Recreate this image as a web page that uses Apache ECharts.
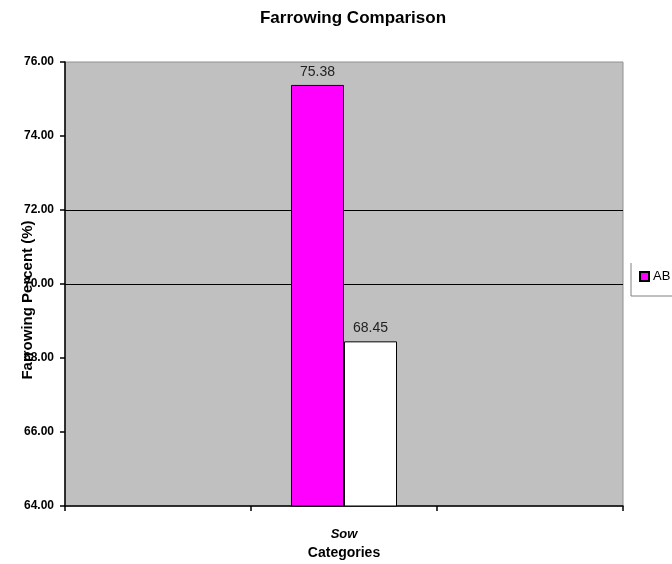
<!DOCTYPE html>
<html><head><meta charset="utf-8">
<script src="https://cdn.jsdelivr.net/npm/echarts@6/dist/echarts.min.js"></script>
<style>html,body{margin:0;padding:0;background:#fff}#c{width:672px;height:564px}</style>
</head><body><div id="c"></div>
<script>
const categories = ['', 'Sow', ''];
const seriesNames = ['AB', 'Other'];
const seriesAB = [null, 75.38, null];
const seriesOther = [null, 68.45, null];
const yTicks = [64, 66, 68, 70, 72, 74, 76];
const gridShown = [70, 72];

const FONT = '"Liberation Sans", Arial, sans-serif';
const chart = echarts.init(document.getElementById('c'));
chart.setOption({
  animation: false,
  backgroundColor: '#fff',
  title: {
    text: 'Farrowing Comparison', left: 348, top: 5, textAlign: 'center',
    textStyle: {fontFamily: FONT, fontSize: 17, fontWeight: 'bold', color: '#000'}
  },
  legend: {
    left: 632, top: 264, orient: 'horizontal', itemWidth: 9, itemHeight: 9, width: 400,
    padding: [6, 6, 8, 7], itemGap: 10,
    data: seriesNames,
    textStyle: {fontFamily: FONT, fontSize: 13, color: '#000', padding: [0, 0, 0, -1]},
    icon: 'rect'
  },
  graphic: [{
    type: 'polyline', silent: true,
    shape: {points: [[631, 263], [631, 296], [672, 296]]},
    style: {stroke: '#808080', lineWidth: 1, fill: null}
  }],
  grid: {left: 65, right: 49, top: 62, bottom: 58, show: true, containLabel: false,
    outerBoundsMode: 'none',
    backgroundColor: '#c0c0c0', borderColor: '#909090', borderWidth: 1},
  xAxis: {
    type: 'category', data: categories,
    name: 'Categories', nameLocation: 'middle', nameGap: 36,
    nameTextStyle: {fontFamily: FONT, fontSize: 14, fontWeight: 'bold', color: '#000'},
    axisLine: {lineStyle: {color: '#000', width: 1.5}},
    axisTick: {show: true, length: 5, lineStyle: {color: '#000', width: 1.5}},
    axisLabel: {margin: 22, fontFamily: FONT, fontSize: 13, fontWeight: 'bold', fontStyle: 'italic', color: '#000'}
  },
  yAxis: {
    type: 'value', min: yTicks[0], max: yTicks[yTicks.length - 1], interval: 2,
    name: 'Farrowing Percent (%)', nameLocation: 'middle', nameGap: 30, nameRotate: 90,
    nameMoveOverlap: false,
    nameTextStyle: {fontFamily: FONT, fontSize: 15, fontWeight: 'bold', color: '#000', padding: [0, 32, 0, 0]},
    axisLine: {show: true, lineStyle: {color: '#000', width: 1.5}},
    axisTick: {show: true, length: 5, lineStyle: {color: '#000', width: 1.5}},
    axisLabel: {margin: 11, fontFamily: FONT, fontSize: 12, fontWeight: 'bold', color: '#000',
      formatter: v => v.toFixed(2)},
    splitLine: {show: true, lineStyle: {width: 1.2,
      color: yTicks.map(t => gridShown.includes(t) ? '#000' : 'rgba(0,0,0,0)')}}
  },
  series: [
    {name: seriesNames[0], type: 'bar', data: seriesAB, barGap: '0%', barCategoryGap: '43%',
      itemStyle: {color: '#ff00ff', borderColor: '#000', borderWidth: 1},
      label: {show: true, position: 'top', distance: 6, fontFamily: FONT, fontSize: 14, color: '#222',
        formatter: p => p.value.toFixed(2)}},
    {name: seriesNames[1], type: 'bar', data: seriesOther,
      itemStyle: {color: '#ffffff', borderColor: '#000', borderWidth: 1},
      label: {show: true, position: 'top', distance: 6, fontFamily: FONT, fontSize: 14, color: '#222',
        formatter: p => p.value.toFixed(2)}}
  ]
});
</script></body></html>
